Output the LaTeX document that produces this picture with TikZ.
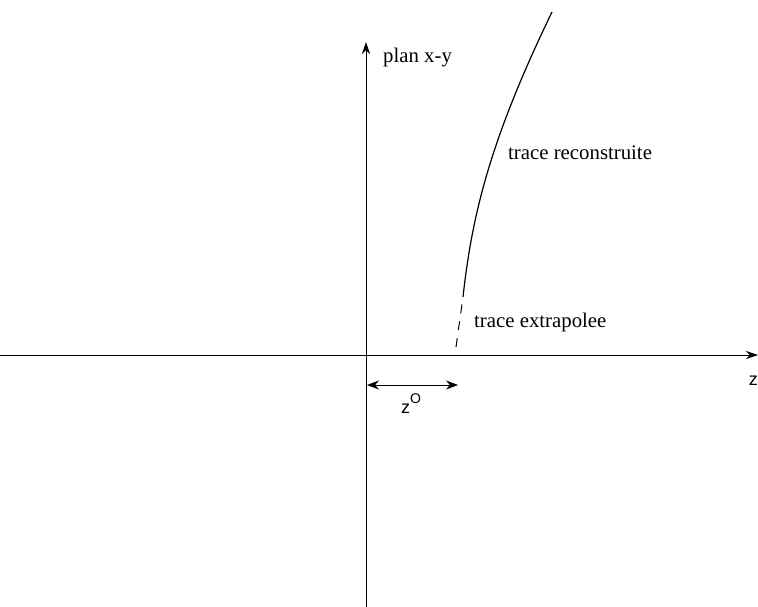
\documentclass[tikz,border=0pt]{standalone}
\usepackage{fontspec}
\setmainfont{Liberation Serif}
\newfontfamily\axisfont{Liberation Sans}
\usetikzlibrary{arrows.meta}
\begin{document}
\begin{tikzpicture}[x=1pt,y=-1pt,
  axis/.style={line width=1pt,-{Stealth[length=12pt,width=8pt]}},
  lbl/.style={font=\fontsize{20.8}{23}\selectfont,inner sep=0pt,anchor=west},
  trk/.style={line width=1.2pt}]
\useasboundingbox (0,0) rectangle (758,607);
\coordinate (vb) at (366,607);
\coordinate (vt) at (366,42);
\coordinate (hl) at (0,355);
\coordinate (hr) at (758,355);
\draw[axis] (vb) -- (vt);
\draw[axis] (hl) -- (hr);
\node[lbl] (plan) at (383,58) {plan x-y};
\node[font=\axisfont\fontsize{18}{20}\selectfont,inner sep=0pt,anchor=east] (zax) at (758,381) {z};
\coordinate (c0) at (463,297);
\coordinate (c1) at (552,12);
\draw[trk] (c0) .. controls (472,215) and (490,140) .. (c1);
\coordinate (d0) at (456,347);
\draw[line width=1pt,dash pattern=on 9pt off 8pt] (d0) -- (c0);
\node[lbl] (recon) at (508,153) {trace reconstruite};
\node[lbl] (extra) at (474,322) {trace extrapolee};
\coordinate (a0) at (367,385);
\coordinate (a1) at (458,385);
\draw[line width=1pt,{Stealth[length=12pt,width=9pt]}-{Stealth[length=12pt,width=9pt]}] (a0) -- (a1);
\node[font=\axisfont\fontsize{18}{20}\selectfont,inner sep=0pt] (z0) at (411,404) {z\raisebox{0.55em}{\fontsize{14}{16}\selectfont O}};
\end{tikzpicture}
\end{document}
